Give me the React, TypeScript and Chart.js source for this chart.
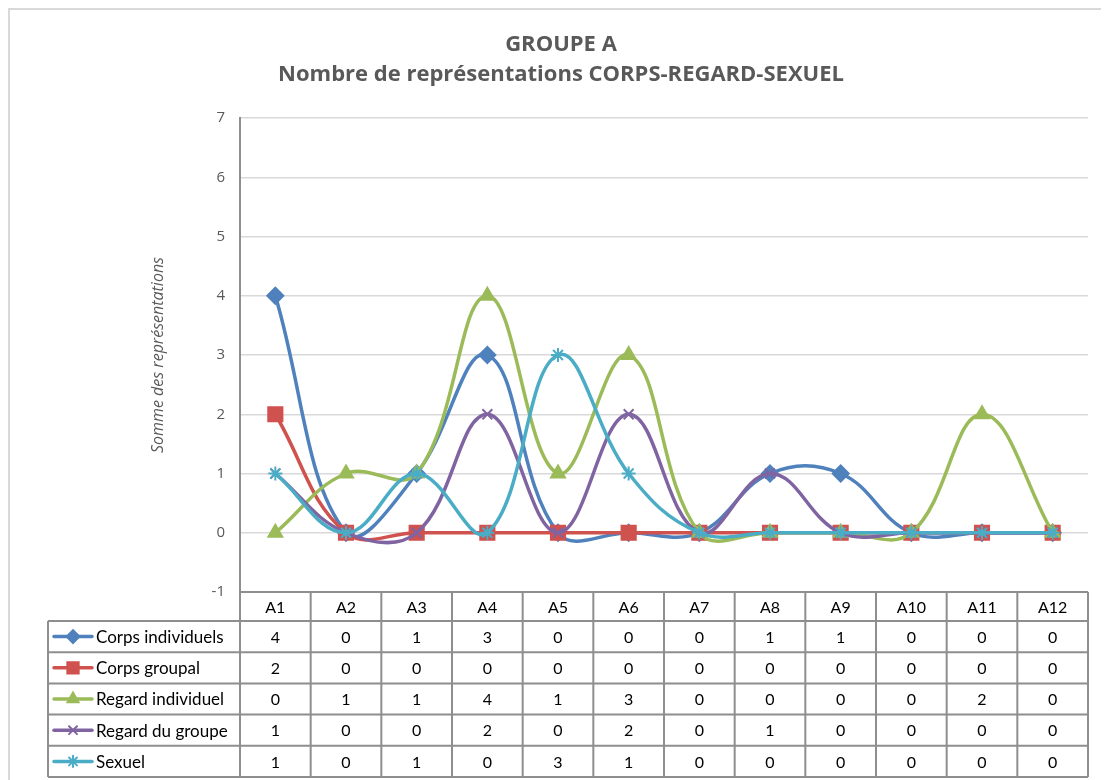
import React, { useEffect, useRef } from 'react';
import { Chart, registerables } from 'chart.js';
import { drawPoint } from 'chart.js/helpers';

Chart.register(...registerables);

const categories = ['A1', 'A2', 'A3', 'A4', 'A5', 'A6', 'A7', 'A8', 'A9', 'A10', 'A11', 'A12'];
const corpsIndividuels = [4, 0, 1, 3, 0, 0, 0, 1, 1, 0, 0, 0];
const corpsGroupal = [2, 0, 0, 0, 0, 0, 0, 0, 0, 0, 0, 0];
const regardIndividuel = [0, 1, 1, 4, 1, 3, 0, 0, 0, 0, 2, 0];
const regardDuGroupe = [1, 0, 0, 2, 0, 2, 0, 1, 0, 0, 0, 0];
const sexuel = [1, 0, 1, 0, 3, 1, 0, 0, 0, 0, 0, 0];

const seriesNames = ['Corps individuels', 'Corps groupal', 'Regard individuel', 'Regard du groupe', 'Sexuel'];
const seriesValues = [corpsIndividuels, corpsGroupal, regardIndividuel, regardDuGroupe, sexuel];
const seriesColors = ['#4F81BD', '#D0524E', '#9BBB59', '#8064A2', '#4BACC6'];
const seriesMarkers = ['rectRot', 'rect', 'triangle', 'crossRot', 'star'];
const seriesMarkerRadius = [8, 10, 8, 7, 7];

const titleLines = ['GROUPE A', 'Nombre de représentations CORPS-REGARD-SEXUEL'];
const yAxisTitle = 'Somme des représentations';
const yMin = -1;
const yMax = 7;

const TABLE_FONT = '"Lato", "Liberation Sans", sans-serif';
const GRID_COLOR = '#8E8E8E';

const frameAndTablePlugin = {
  id: 'frameAndTable',
  beforeDraw(chart: any) {
    const ctx = chart.ctx;
    ctx.save();
    ctx.strokeStyle = '#D9D9D9';
    ctx.lineWidth = 2;
    ctx.beginPath();
    ctx.moveTo(1, chart.height);
    ctx.lineTo(1, 1);
    ctx.lineTo(chart.width, 1);
    ctx.stroke();

    ctx.fillStyle = '#595959';
    ctx.font = 'bold 22px "Open Sans", sans-serif';
    ctx.textAlign = 'center';
    ctx.textBaseline = 'middle';
    ctx.fillText(titleLines[0], 553, 37);
    ctx.fillText(titleLines[1], 553, 67);
    ctx.restore();
  },
  afterDraw(chart: any) {
    const ctx = chart.ctx;
    const area = chart.chartArea;
    const n = categories.length;
    const colW = (area.right - area.left) / n;
    const headTop = area.bottom;
    const headBottom = headTop + 29;
    const rowH = 31.2;
    const tableBottom = headBottom + rowH * seriesNames.length;
    const legendLeft = 40;

    ctx.save();
    ctx.strokeStyle = GRID_COLOR;
    ctx.lineWidth = 2;
    ctx.beginPath();
    ctx.moveTo(area.left, headTop);
    ctx.lineTo(area.right, headTop);
    for (let r = 0; r <= seriesNames.length; r++) {
      const y = headBottom + r * rowH;
      ctx.moveTo(legendLeft, y);
      ctx.lineTo(area.right, y);
    }
    for (let c = 0; c <= n; c++) {
      const x = area.left + c * colW;
      ctx.moveTo(x, headTop);
      ctx.lineTo(x, tableBottom);
    }
    ctx.moveTo(legendLeft, headBottom);
    ctx.lineTo(legendLeft, tableBottom);
    ctx.stroke();

    ctx.fillStyle = '#000000';
    ctx.font = '16px ' + TABLE_FONT;
    ctx.textAlign = 'center';
    ctx.textBaseline = 'middle';
    const xScale = chart.scales.x;
    for (let c = 0; c < n; c++) {
      const cx = xScale.getPixelForValue(c);
      ctx.fillText(categories[c], cx, (headTop + headBottom) / 2 + 1);
      for (let r = 0; r < seriesNames.length; r++) {
        const cy = headBottom + r * rowH + rowH / 2 + 1;
        ctx.fillText(String(seriesValues[r][c]), cx, cy);
      }
    }

    for (let r = 0; r < seriesNames.length; r++) {
      const cy = headBottom + r * rowH + rowH / 2;
      ctx.strokeStyle = seriesColors[r];
      ctx.lineWidth = 3.5;
      ctx.lineCap = 'round';
      ctx.beginPath();
      ctx.moveTo(46, cy);
      ctx.lineTo(84, cy);
      ctx.stroke();
      ctx.fillStyle = seriesColors[r];
      ctx.strokeStyle = seriesColors[r];
      ctx.lineWidth = 2;
      drawPoint(ctx, { pointStyle: seriesMarkers[r], radius: seriesMarkerRadius[r] * 0.8, borderWidth: 2, rotation: 0 } as any, 65, cy);
      ctx.fillStyle = '#000000';
      ctx.font = '17px ' + TABLE_FONT;
      ctx.textAlign = 'left';
      ctx.textBaseline = 'middle';
      ctx.fillText(seriesNames[r], 88, cy + 1);
    }
    ctx.restore();
  },
};

export default function App() {
  const canvasRef = useRef<HTMLCanvasElement | null>(null);

  useEffect(() => {
    document.body.style.overflow = 'hidden';
    const canvas = canvasRef.current;
    if (!canvas) return;
    const datasets = seriesNames.map((name, i) => ({
      label: name,
      data: seriesValues[i],
      borderColor: seriesColors[i],
      backgroundColor: seriesColors[i],
      pointBackgroundColor: seriesColors[i],
      pointBorderColor: seriesColors[i],
      pointStyle: seriesMarkers[i],
      pointRadius: seriesMarkerRadius[i],
      pointBorderWidth: 2,
      borderWidth: 3.5,
      tension: 0.4,
      fill: false,
      order: seriesNames.length - i,
    }));
    const chart = new Chart(canvas, {
      type: 'line',
      data: { labels: categories, datasets },
      options: {
        responsive: false,
        animation: false,
        devicePixelRatio: 1,
        layout: { padding: { left: 137, right: 21, top: 110, bottom: 188 } },
        plugins: {
          legend: { display: false },
          tooltip: { enabled: false },
          title: { display: false },
        },
        scales: {
          x: {
            display: false,
            offset: true,
            grid: { display: false },
          },
          y: {
            min: yMin,
            max: yMax,
            afterFit: (scale: any) => {
              scale.width = 95;
            },
            ticks: {
              stepSize: 1,
              color: '#595959',
              padding: 15,
              font: { family: '"Open Sans", sans-serif', size: 15 },
            },
            grid: {
              color: '#D9D9D9',
              lineWidth: 1.5,
              drawTicks: false,
            },
            border: { display: true, color: '#8E8E8E', width: 2 },
            title: {
              display: true,
              text: yAxisTitle,
              color: '#595959',
              font: { family: '"Open Sans", sans-serif', size: 16, style: 'italic' },
            },
          },
        },
      },
      plugins: [frameAndTablePlugin],
    });
    return () => chart.destroy();
  }, []);

  return (
    <div style={{ width: 1101, height: 772 }}>
      <canvas ref={canvasRef} width={1101} height={772} style={{ display: 'block' }} />
    </div>
  );
}
